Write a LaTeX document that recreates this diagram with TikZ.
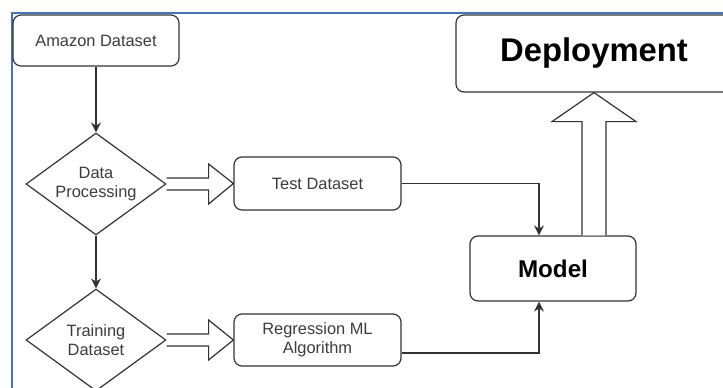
\documentclass[tikz,border=0pt]{standalone}
\usepackage{fontspec}
\setmainfont{Liberation Sans}
\usetikzlibrary{shapes.geometric,arrows.meta,calc}
\definecolor{frameblue}{RGB}{68,114,196}
\definecolor{ink}{RGB}{51,51,51}
\definecolor{txt}{RGB}{60,60,60}
\tikzset{
  box/.style={draw=ink, line width=1.2pt, rounded corners=8pt, fill=white,
    inner sep=0pt, align=center, text=txt,
    font=\fontsize{16.4}{19.5}\selectfont},
  decision/.style={draw=ink, line width=1.2pt, diamond, aspect=1.37, fill=white,
    inner sep=0pt, minimum width=140pt, minimum height=102pt, align=center,
    text=txt, font=\fontsize{16.4}{19.5}\selectfont},
  flow/.style={draw=ink, line width=1.1pt, -{Stealth[length=10pt,width=10pt]}},
  bigarrow/.style={draw=ink, line width=1.2pt, fill=white, line join=miter}
}
\begin{document}
\begin{tikzpicture}[x=1pt, y=-1pt]
  \useasboundingbox (0,0) rectangle (723,388);
  \clip (0,0) rectangle (723,388);
  \fill[white] (0,0) rectangle (723,388);
  % page frame
  \draw[frameblue, line width=2pt] (12,400) -- (12,13) -- (740,13);

  % nodes
  \node[box, minimum width=166pt, minimum height=51pt] (amazon) at (96,40.5) {Amazon Dataset};
  \node[decision] (dp) at (96,184) {Data\\Processing};
  \node[decision] (td) at (96,340) {Training\\Dataset};
  \node[box, minimum width=167pt, minimum height=53pt] (test) at (317.5,183.5) {Test Dataset};
  \node[box, minimum width=167pt, minimum height=52pt] (reg) at (317.5,340) {Regression ML\\Algorithm};
  \node[box, minimum width=166pt, minimum height=65pt, text=black,
        font=\fontsize{24.2}{28}\selectfont\bfseries] (model) at (553,268.5) {Model};
  \node[box, minimum width=276pt, minimum height=77pt, text=black,
        font=\fontsize{32.8}{38}\selectfont\bfseries] (deploy) at (594,53.5) {Deployment};

  % thin connectors
  \draw[flow] (amazon.south) -- (dp.north);
  \draw[flow] (dp.south) -- (td.north);
  \coordinate (mtop) at ($(model.north)+(-14,0)$);
  \coordinate (mbot) at ($(model.south)+(-14,0)$);
  \draw[flow] (test.east) -| (mtop);
  \draw[flow] ($(reg.east)+(0,13)$) -| (mbot);

  % block arrows
  \draw[bigarrow] ($(dp.east)+(0,-6)$) -- ($(dp.east)+(42,-6)$) -- ($(dp.east)+(42,-20)$)
    -- (test.west) -- ($(dp.east)+(42,20)$) -- ($(dp.east)+(42,6)$) -- ($(dp.east)+(0,6)$);
  \draw[bigarrow] ($(td.east)+(0,-6)$) -- ($(td.east)+(42,-6)$) -- ($(td.east)+(42,-20)$)
    -- (reg.west) -- ($(td.east)+(42,20)$) -- ($(td.east)+(42,6)$) -- ($(td.east)+(0,6)$);
  \coordinate (up) at (deploy.south |- model.north);
  \draw[bigarrow] ($(up)+(-12,0)$) -- ($(deploy.south)+(-12,29)$) -- ($(deploy.south)+(-42,29)$)
    -- (deploy.south) -- ($(deploy.south)+(42,29)$) -- ($(deploy.south)+(12,29)$) -- ($(up)+(12,0)$);
\end{tikzpicture}
\end{document}
